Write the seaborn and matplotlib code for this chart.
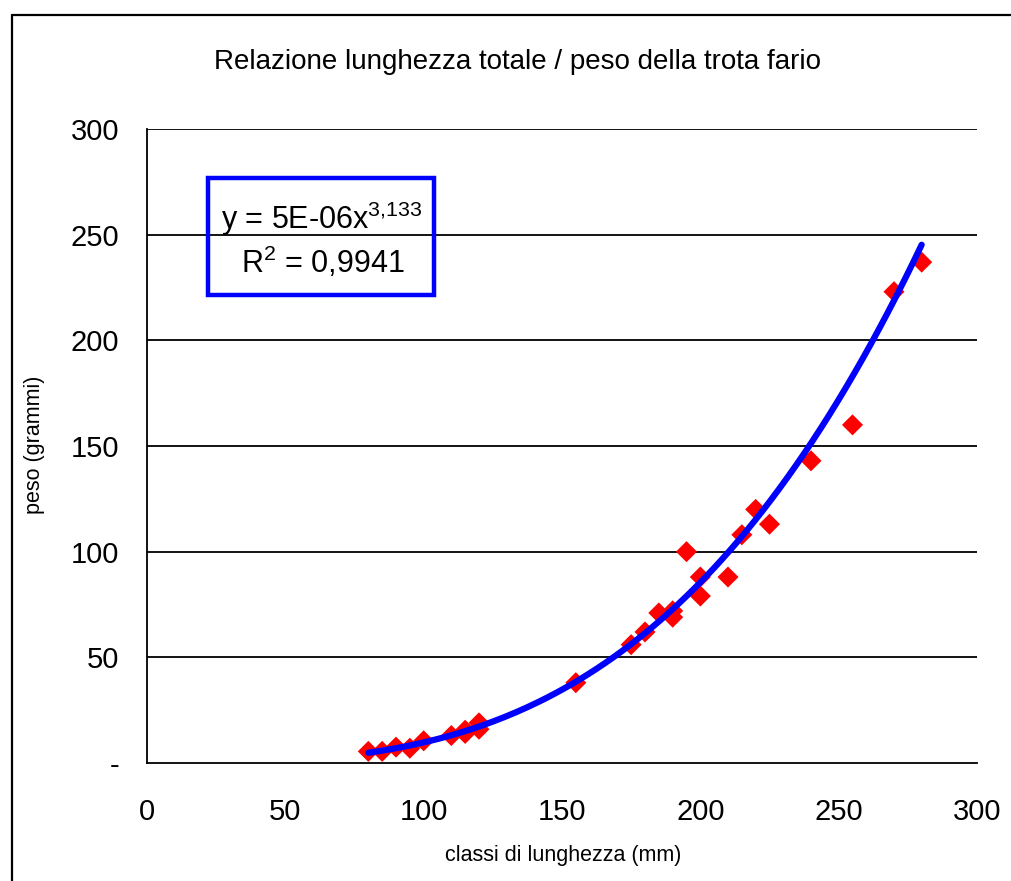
import numpy as np
import pandas as pd
import matplotlib
matplotlib.use("Agg")
import matplotlib.pyplot as plt
import seaborn as sns
from matplotlib.patches import Rectangle
from matplotlib.lines import Line2D

# ---- data ----
lunghezza = [80, 85, 90, 95, 100, 110, 115, 115, 120, 120, 155, 175, 180, 185,
             190, 190, 195, 200, 200, 210, 215, 220, 225, 240, 255, 270, 280]
peso = [5.5, 5.5, 7.5, 7, 10.5, 13, 14, 15.5, 16, 19, 38, 56, 62, 71,
        69, 72, 100, 88, 79, 88, 108, 120, 113, 143, 160, 223, 237]
# power trendline parameters (exponent from the label, coefficient)
trend_a = 5.28e-06
trend_b = 3.133
x_ticks = [0, 50, 100, 150, 200, 250, 300]
x_tick_labels = ["0", "50", "100", "150", "200", "250", "300"]
y_ticks = [0, 50, 100, 150, 200, 250, 300]
y_tick_labels = ["-", "50", "100", "150", "200", "250", "300"]
title = "Relazione lunghezza totale / peso della trota fario"
xlabel = "classi di lunghezza (mm)"
ylabel = "peso (grammi)"
eq_line1 = r"y = 5E-06x$\mathregular{^{3{,}133}}$"
eq_line2 = r"R$\mathregular{^{2}}$ = 0,9941"

df = pd.DataFrame({"lunghezza": lunghezza, "peso": peso})
xf = np.linspace(min(lunghezza), max(lunghezza), 200)
fit = pd.DataFrame({"x": xf, "y": trend_a * xf ** trend_b})

sns.set_theme(style="white")
plt.rcParams["font.family"] = ["Liberation Sans", "DejaVu Sans"]
plt.rcParams["mathtext.fontset"] = "custom"
plt.rcParams["mathtext.rm"] = "Liberation Sans"
plt.rcParams["mathtext.it"] = "Liberation Sans"

fig = plt.figure(figsize=(10.12, 8.81), dpi=100)
fig.patch.set_facecolor("white")
ax = fig.add_axes([147 / 1012, 1 - 763 / 881, (977 - 147) / 1012, (763 - 129) / 881])

# outer chart frame (cut off at right/bottom)
fig.add_artist(Line2D([12 / 1012, 12 / 1012], [1 - 15 / 881, -0.05],
                      transform=fig.transFigure, color="black", lw=1.6))
fig.add_artist(Line2D([12 / 1012, 1.05], [1 - 15 / 881, 1 - 15 / 881],
                      transform=fig.transFigure, color="black", lw=1.6))

for yv in y_ticks[1:]:
    ax.axhline(yv, color="black", lw=1.3, zorder=0)

sns.scatterplot(data=df, x="lunghezza", y="peso", marker="D", s=115,
                color="#ff0000", edgecolor="none", ax=ax, zorder=3)
sns.lineplot(data=fit, x="x", y="y", color="#0000ff", lw=4.5, ax=ax, zorder=4)

ax.set_xlim(0, 300)
ax.set_ylim(0, 300)
ax.set_xticks(x_ticks)
ax.set_xticklabels(x_tick_labels)
ax.set_yticks(y_ticks)
ax.set_yticklabels(y_tick_labels)
ax.tick_params(axis="both", which="major", labelsize=21, direction="out",
               length=7, width=1.3, color="black", labelcolor="black")
ax.tick_params(axis="x", pad=18)
ax.tick_params(axis="y", pad=13)
for s in ["top", "right"]:
    ax.spines[s].set_visible(False)
for s in ["left", "bottom"]:
    ax.spines[s].set_color("black")
    ax.spines[s].set_linewidth(1.3)

ax.set_xlabel(xlabel, fontsize=15.5, color="black", va="center")
ax.xaxis.set_label_coords((563 - 147) / 830, (763 - 855) / 634)
ax.set_ylabel(ylabel, fontsize=15.5, color="black", va="center")
ax.yaxis.set_label_coords((35 - 147) / 830, (763 - 445) / 634)
fig.text(517 / 1012, 1 - 62 / 881, title, fontsize=20, ha="center", va="center",
         color="black")

# equation box (transparent, gridline visible through it)
ax.add_patch(Rectangle(((208 - 147) / 830, (763 - 295) / 634),
                       (434 - 208) / 830, (295 - 178) / 634,
                       transform=ax.transAxes, fill=False,
                       edgecolor="#0000ff", lw=3.2, zorder=5))
ax.text((322 - 147) / 830, (763 - 219) / 634, eq_line1, transform=ax.transAxes,
        fontsize=22, ha="center", va="center", zorder=6, color="black")
ax.text((323 - 147) / 830, (763 - 262) / 634, eq_line2, transform=ax.transAxes,
        fontsize=22, ha="center", va="center", zorder=6, color="black")

fig.savefig("out.png", dpi=100)
